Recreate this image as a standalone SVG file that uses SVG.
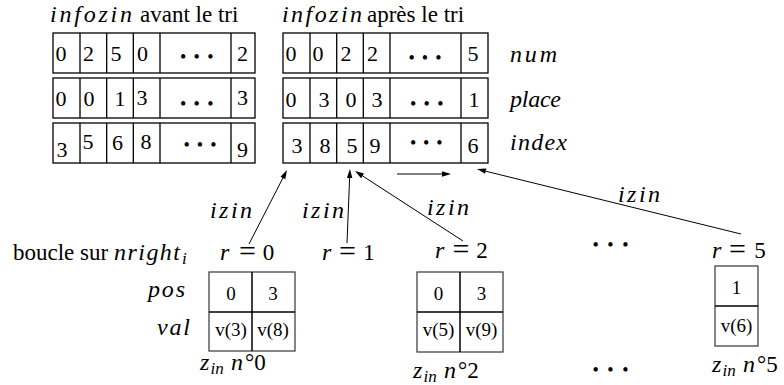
<svg xmlns="http://www.w3.org/2000/svg" width="784" height="385" viewBox="0 0 784 385">
<defs>
<style>
.cell{fill:none;stroke:#000;stroke-width:1.3}
.box{fill:none;stroke:#444;stroke-width:1.3}
.in{stroke:#000;stroke-width:1.5}
.ln{fill:none;stroke:#000;stroke-width:1}
.hd{fill:#000;stroke:none}
</style>
</defs>
<rect width="784" height="385" fill="#fff"/>

<g id="title-before">
<text font-family="Liberation Serif" font-style="italic" font-size="24" x="50" y="22" textLength="82" lengthAdjust="spacing">infozin</text>
<text font-family="Liberation Serif" font-size="23" x="140" y="22">avant le tri</text>
</g>
<g id="title-after">
<text font-family="Liberation Serif" font-style="italic" font-size="24" x="282" y="22" textLength="80" lengthAdjust="spacing">infozin</text>
<text font-family="Liberation Serif" font-size="23" x="367" y="22">après le tri</text>
</g>

<g id="table-before">
<rect class="cell" x="53" y="33" width="202" height="40"/>
<path class="cell" d="M80,33V73M106.7,33V73M133.3,33V73M160,33V73M231,33V73"/>
<rect class="cell" x="53" y="78" width="202" height="40"/>
<path class="cell" d="M80,78V118M106.7,78V118M133.3,78V118M160,78V118M231,78V118"/>
<rect class="cell" x="53" y="123" width="202" height="40"/>
<path class="cell" d="M80,123V163M106.7,123V163M133.3,123V163M160,123V163M231,123V163"/>
<text font-family="Liberation Serif" font-size="22" text-anchor="middle" x="61" y="61">0</text><text font-family="Liberation Serif" font-size="22" text-anchor="middle" x="88.5" y="61">2</text><text font-family="Liberation Serif" font-size="22" text-anchor="middle" x="116" y="61">5</text><text font-family="Liberation Serif" font-size="22" text-anchor="middle" x="142.5" y="61">0</text><text font-family="Liberation Serif" font-size="22" text-anchor="middle" x="242.5" y="61">2</text>
<text font-family="Liberation Serif" font-size="22" text-anchor="middle" x="61" y="106">0</text><text font-family="Liberation Serif" font-size="22" text-anchor="middle" x="89" y="106">0</text><text font-family="Liberation Serif" font-size="22" text-anchor="middle" x="120" y="106">1</text><text font-family="Liberation Serif" font-size="22" text-anchor="middle" x="142" y="105">3</text><text font-family="Liberation Serif" font-size="22" text-anchor="middle" x="242.5" y="105">3</text>
<text font-family="Liberation Serif" font-size="22" text-anchor="middle" x="62" y="157">3</text><text font-family="Liberation Serif" font-size="22" text-anchor="middle" x="88" y="149">5</text><text font-family="Liberation Serif" font-size="22" text-anchor="middle" x="117.5" y="150">6</text><text font-family="Liberation Serif" font-size="22" text-anchor="middle" x="146" y="149">8</text><text font-family="Liberation Serif" font-size="22" text-anchor="middle" x="242.5" y="157">9</text>
<text font-family="Liberation Serif" font-size="18" x="180" y="63" textLength="33.5" lengthAdjust="spacing">•••</text>
<text font-family="Liberation Serif" font-size="18" x="180" y="109.5" textLength="33.5" lengthAdjust="spacing">•••</text>
<text font-family="Liberation Serif" font-size="18" x="183.5" y="151" textLength="33" lengthAdjust="spacing">•••</text>
</g>

<g id="table-after">
<rect class="cell" x="283" y="33" width="205" height="40"/>
<path class="cell" d="M310,33V73M336.7,33V73M363.3,33V73M390,33V73M461,33V73"/>
<rect class="cell" x="283" y="78" width="205" height="40"/>
<path class="cell" d="M310,78V118M336.7,78V118M363.3,78V118M390,78V118M461,78V118"/>
<rect class="cell" x="283" y="123" width="205" height="40"/>
<path class="cell" d="M310,123V163M336.7,123V163M363.3,123V163M390,123V163M461,123V163"/>
<text font-family="Liberation Serif" font-size="22" text-anchor="middle" x="291" y="61">0</text><text font-family="Liberation Serif" font-size="22" text-anchor="middle" x="318" y="61">0</text><text font-family="Liberation Serif" font-size="22" text-anchor="middle" x="346" y="61">2</text><text font-family="Liberation Serif" font-size="22" text-anchor="middle" x="372.5" y="61">2</text><text font-family="Liberation Serif" font-size="22" text-anchor="middle" x="473" y="61">5</text>
<text font-family="Liberation Serif" font-size="22" text-anchor="middle" x="291" y="106.5">0</text><text font-family="Liberation Serif" font-size="22" text-anchor="middle" x="324" y="106.5">3</text><text font-family="Liberation Serif" font-size="22" text-anchor="middle" x="351" y="106.5">0</text><text font-family="Liberation Serif" font-size="22" text-anchor="middle" x="377" y="106.5">3</text><text font-family="Liberation Serif" font-size="22" text-anchor="middle" x="474" y="106.5">1</text>
<text font-family="Liberation Serif" font-size="22" text-anchor="middle" x="297" y="153">3</text><text font-family="Liberation Serif" font-size="22" text-anchor="middle" x="325" y="153">8</text><text font-family="Liberation Serif" font-size="22" text-anchor="middle" x="352" y="153">5</text><text font-family="Liberation Serif" font-size="22" text-anchor="middle" x="375" y="153">9</text><text font-family="Liberation Serif" font-size="22" text-anchor="middle" x="473" y="153">6</text>
<text font-family="Liberation Serif" font-size="18" x="408.5" y="64" textLength="33" lengthAdjust="spacing">•••</text>
<text font-family="Liberation Serif" font-size="18" x="410" y="110" textLength="33.5" lengthAdjust="spacing">•••</text>
<text font-family="Liberation Serif" font-size="18" x="410" y="149" textLength="32.5" lengthAdjust="spacing">•••</text>
</g>

<g id="row-labels">
<text font-family="Liberation Serif" font-style="italic" font-size="24" x="510" y="62" textLength="47" lengthAdjust="spacing">num</text>
<text font-family="Liberation Serif" font-style="italic" font-size="24" x="510" y="107" textLength="51" lengthAdjust="spacing">place</text>
<text font-family="Liberation Serif" font-style="italic" font-size="24" x="510" y="150" textLength="57" lengthAdjust="spacing">index</text>
</g>

<g id="loop-label">
<text font-family="Liberation Serif" font-size="23" x="13" y="260">boucle sur</text>
<text font-family="Liberation Serif" font-style="italic" font-size="24" x="114" y="260" textLength="66" lengthAdjust="spacing">nright</text>
<text font-family="Liberation Serif" font-style="italic" font-size="17" x="182" y="264">i</text>
</g>

<g id="r0">
<text font-family="Liberation Serif" font-style="italic" font-size="24" x="220" y="260">r</text>
<text font-family="Liberation Serif" font-size="30" x="239" y="261">=</text>
<text font-family="Liberation Serif" font-size="23" x="268.5" y="260" text-anchor="middle">0</text>
</g>
<g id="r1">
<text font-family="Liberation Serif" font-style="italic" font-size="24" x="322" y="260">r</text>
<text font-family="Liberation Serif" font-size="30" x="339" y="261">=</text>
<text font-family="Liberation Serif" font-size="23" x="369" y="260" text-anchor="middle">1</text>
</g>
<g id="r2">
<text font-family="Liberation Serif" font-style="italic" font-size="24" x="435" y="258">r</text>
<text font-family="Liberation Serif" font-size="30" x="452.5" y="259">=</text>
<text font-family="Liberation Serif" font-size="23" x="482" y="258" text-anchor="middle">2</text>
</g>
<g id="r-dots">
<text font-family="Liberation Serif" font-size="18" x="592.5" y="250.5" textLength="36" lengthAdjust="spacing">•••</text>
</g>
<g id="r5">
<text font-family="Liberation Serif" font-style="italic" font-size="24" x="712" y="258">r</text>
<text font-family="Liberation Serif" font-size="30" x="729" y="259">=</text>
<text font-family="Liberation Serif" font-size="23" x="760" y="258" text-anchor="middle">5</text>
</g>

<g id="zone-labels">
<text font-family="Liberation Serif" font-style="italic" font-size="24" x="148" y="297" textLength="37" lengthAdjust="spacing">pos</text>
<text font-family="Liberation Serif" font-style="italic" font-size="24" x="157" y="335" textLength="33" lengthAdjust="spacing">val</text>
</g>

<g id="zin0">
<rect class="box" x="209" y="272" width="86" height="79"/>
<path class="in" d="M252,272V351M209,312H295"/>
<text font-family="Liberation Serif" font-size="19" text-anchor="middle" x="231" y="300">0</text><text font-family="Liberation Serif" font-size="19" text-anchor="middle" x="273" y="300">3</text>
<text font-family="Liberation Serif" font-size="19" text-anchor="middle" x="231" y="336">v(3)</text><text font-family="Liberation Serif" font-size="19" text-anchor="middle" x="273" y="336">v(8)</text>
<text font-family="Liberation Serif" font-style="italic" font-size="24" x="200" y="370">z</text><text font-family="Liberation Serif" font-style="italic" font-size="17" x="210.5" y="374">in</text><text font-family="Liberation Serif" font-style="italic" font-size="24" x="231" y="370">n</text><text font-family="Liberation Serif" font-size="23" x="245" y="370">°0</text>
</g>

<g id="zin2">
<rect class="box" x="417" y="272" width="86" height="80"/>
<path class="in" d="M460,272V352M417,312H503"/>
<text font-family="Liberation Serif" font-size="19" text-anchor="middle" x="438.5" y="300">0</text><text font-family="Liberation Serif" font-size="19" text-anchor="middle" x="481.5" y="300">3</text>
<text font-family="Liberation Serif" font-size="19" text-anchor="middle" x="438.5" y="336">v(5)</text><text font-family="Liberation Serif" font-size="19" text-anchor="middle" x="481.5" y="336">v(9)</text>
<text font-family="Liberation Serif" font-style="italic" font-size="24" x="413" y="378">z</text><text font-family="Liberation Serif" font-style="italic" font-size="17" x="423.5" y="382">in</text><text font-family="Liberation Serif" font-style="italic" font-size="24" x="444" y="378">n</text><text font-family="Liberation Serif" font-size="23" x="458" y="378">°2</text>
</g>

<g id="zin-dots">
<text font-family="Liberation Serif" font-size="18" x="592.5" y="376" textLength="36" lengthAdjust="spacing">•••</text>
</g>

<g id="zin5">
<rect class="box" x="715" y="266" width="43" height="80"/>
<path class="in" d="M715,306H758"/>
<text font-family="Liberation Serif" font-size="19" text-anchor="middle" x="736.5" y="294">1</text>
<text font-family="Liberation Serif" font-size="19" text-anchor="middle" x="736.5" y="332">v(6)</text>
<text font-family="Liberation Serif" font-style="italic" font-size="24" x="712" y="372">z</text><text font-family="Liberation Serif" font-style="italic" font-size="17" x="722.5" y="376">in</text><text font-family="Liberation Serif" font-style="italic" font-size="24" x="743" y="372">n</text><text font-family="Liberation Serif" font-size="23" x="757" y="372">°5</text>
</g>

<g id="connectors">
<path class="ln" d="M249,244L282.9,178"/>
<path class="hd" d="M287,170L285.3,179.2L280.5,176.8Z"/>
<path class="ln" d="M347,243L349.6,178"/>
<path class="hd" d="M350,169L352.3,178.1L346.9,177.9Z"/>
<path class="ln" d="M463,241L362.5,175.9"/>
<path class="hd" d="M355,171L364,173.6L361.1,178.2Z"/>
<path class="ln" d="M741,234L485.7,171.2"/>
<path class="hd" d="M477,169L486.4,168.5L485.1,173.8Z"/>
<path class="ln" d="M397,174H442" stroke="#333"/>
<path class="hd" d="M451,174L442,171.3L442,176.7Z"/>
<text font-family="Liberation Serif" font-style="italic" font-size="24" x="210" y="218" textLength="42" lengthAdjust="spacing">izin</text>
<text font-family="Liberation Serif" font-style="italic" font-size="24" x="302" y="218" textLength="42" lengthAdjust="spacing">izin</text>
<text font-family="Liberation Serif" font-style="italic" font-size="24" x="427" y="215" textLength="42" lengthAdjust="spacing">izin</text>
<text font-family="Liberation Serif" font-style="italic" font-size="24" x="618" y="202" textLength="42" lengthAdjust="spacing">izin</text>
</g>
</svg>
